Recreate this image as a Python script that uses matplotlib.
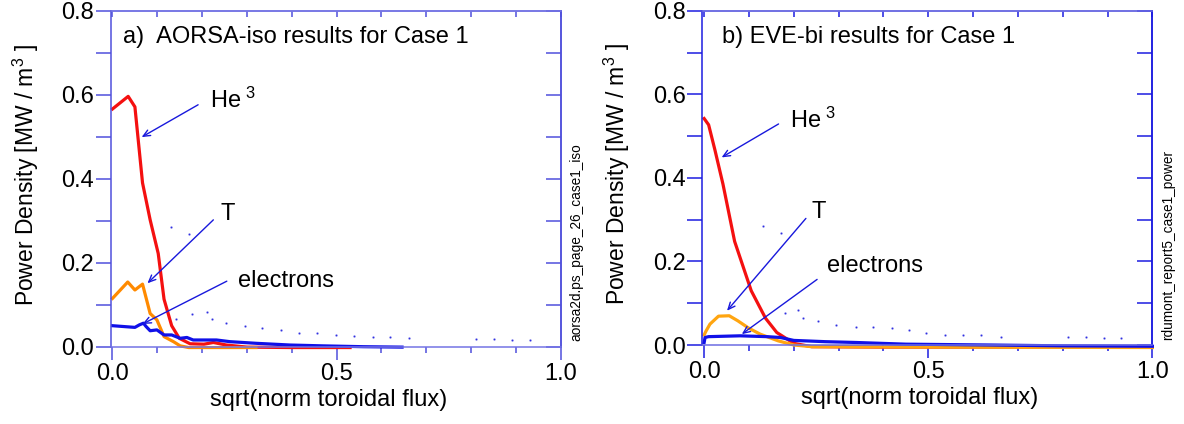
"""Power density profiles for Case 1: AORSA-iso and EVE-bi results side by side."""

import matplotlib
matplotlib.use("Agg")
import matplotlib.pyplot as plt
from matplotlib.ticker import MultipleLocator, FormatStrFormatter

plt.rcParams["font.family"] = ["Liberation Sans", "DejaVu Sans"]
plt.rcParams["mathtext.fontset"] = "custom"
plt.rcParams["mathtext.rm"] = "Liberation Sans"
plt.rcParams["mathtext.it"] = "Liberation Sans:italic"
plt.rcParams["mathtext.bf"] = "Liberation Sans:bold"

# ---- panel a) AORSA-iso ----
he3_a_x = [0.0, 0.035, 0.050, 0.067, 0.084, 0.102, 0.115, 0.132, 0.149, 0.173, 0.204, 0.225, 0.254, 0.300, 0.400, 0.530]
he3_a_y = [0.566, 0.596, 0.571, 0.390, 0.302, 0.222, 0.113, 0.050, 0.020, 0.007, 0.006, 0.010, 0.004, -0.001, -0.002, -0.002]
t_a_x = [0.0, 0.034, 0.050, 0.067, 0.084, 0.099, 0.115, 0.136, 0.151, 0.170, 0.260, 0.320]
t_a_y = [0.115, 0.154, 0.135, 0.149, 0.079, 0.064, 0.024, 0.012, 0.002, -0.002, -0.002, -0.002]
el_a_x = [0.0, 0.050, 0.060, 0.069, 0.075, 0.084, 0.099, 0.115, 0.132, 0.151, 0.166, 0.180, 0.232, 0.262,
          0.322, 0.396, 0.470, 0.560, 0.646]
el_a_y = [0.050, 0.046, 0.052, 0.056, 0.048, 0.038, 0.040, 0.028, 0.028, 0.020, 0.022, 0.016, 0.016, 0.012,
          0.008, 0.004, 0.002, 0.000, -0.001]
dots_a_x = [0.130, 0.170, 0.142, 0.177, 0.210, 0.222, 0.254, 0.296, 0.334, 0.376, 0.417, 0.456, 0.498, 0.539,
            0.581, 0.620, 0.662, 0.811, 0.852, 0.892, 0.932]
dots_a_y = [0.286, 0.268, 0.065, 0.077, 0.083, 0.065, 0.057, 0.049, 0.044, 0.040, 0.033, 0.032, 0.028, 0.025,
            0.024, 0.022, 0.020, 0.018, 0.018, 0.016, 0.016]

# ---- panel b) EVE-bi ----
he3_b_x = [0.0, 0.010, 0.024, 0.042, 0.068, 0.105, 0.137, 0.162, 0.200, 0.240, 0.400, 0.700, 1.000]
he3_b_y = [0.542, 0.527, 0.467, 0.385, 0.248, 0.130, 0.064, 0.030, 0.004, -0.004, -0.005, -0.005, -0.005]
t_b_x = [0.0, 0.004, 0.013, 0.032, 0.056, 0.075, 0.100, 0.125, 0.165, 0.200, 0.240, 0.500, 1.000]
t_b_y = [0.024, 0.033, 0.050, 0.069, 0.070, 0.058, 0.040, 0.026, 0.010, 0.000, -0.004, -0.005, -0.006]
el_b_x = [0.0, 0.002, 0.010, 0.080, 0.140, 0.170, 0.200, 0.270, 0.340, 0.450, 0.640, 0.800, 1.000]
el_b_y = [0.006, 0.018, 0.020, 0.022, 0.020, 0.018, 0.011, 0.008, 0.006, 0.002, 0.000, -0.002, -0.003]
dots_b_x = [0.131, 0.171, 0.180, 0.210, 0.221, 0.254, 0.294, 0.338, 0.377, 0.418, 0.457, 0.496, 0.537,
            0.578, 0.618, 0.662, 0.811, 0.852, 0.892, 0.931]
dots_b_y = [0.285, 0.267, 0.076, 0.083, 0.065, 0.058, 0.048, 0.044, 0.044, 0.041, 0.036, 0.029, 0.025,
            0.025, 0.025, 0.020, 0.018, 0.018, 0.016, 0.016]

titles = ["a)  AORSA-iso results for Case 1", "b) EVE-bi results for Case 1"]
stamps = ["aorsa2d.ps_page_26_case1_iso", "rdumont_report5_case1_power"]
species = [r"He$^{\ 3}$", "T", "electrons"]

# label anchors (left, baseline) and arrows (tail -> head), data coords
labels_a = [(0.218, 0.568), (0.240, 0.302), (0.279, 0.141)]
arrows_a = [((0.191, 0.576), (0.065, 0.499)), ((0.225, 0.302), (0.078, 0.151)), ((0.255, 0.156), (0.067, 0.054))]
labels_b = [(0.192, 0.519), (0.240, 0.303), (0.273, 0.175)]
arrows_b = [((0.166, 0.529), (0.039, 0.449)), ((0.227, 0.303), (0.051, 0.082)), ((0.252, 0.157), (0.084, 0.026))]

FS = 17


def draw_panel(ax, curves, dots, title, labels, arrows, stamp, frame, vframe, title_x, xlab_x):
    """Draws one power density panel with its IDL style frame."""
    for x, y, color in curves:
        ax.plot(x, y, color=color, lw=2.3, solid_joinstyle="round", clip_on=False)
    ax.plot(dots[0], dots[1], ls="none", marker="s", ms=0.9, mew=0.4, color="#3030e0")

    for (tail, head) in arrows:
        ax.annotate("", xy=head, xytext=tail,
                    arrowprops=dict(arrowstyle="->,head_length=0.5,head_width=0.22", color="#1818dc", lw=1.0,
                                    shrinkA=0, shrinkB=0))
    for name, (lx, ly) in zip(species, labels):
        ax.text(lx, ly, name, fontsize=FS, ha="left", va="baseline")

    ax.text(title_x, 0.722, title, fontsize=FS, ha="left", va="baseline")

    ax.set_xlim(-0.004, 1.0)
    ax.set_ylim(0.0, 0.8)
    ax.xaxis.set_major_locator(MultipleLocator(0.5))
    ax.xaxis.set_minor_locator(MultipleLocator(0.1))
    ax.yaxis.set_major_locator(MultipleLocator(0.2))
    ax.yaxis.set_minor_locator(MultipleLocator(0.1))
    ax.xaxis.set_major_formatter(FormatStrFormatter("%.1f"))
    ax.yaxis.set_major_formatter(FormatStrFormatter("%.1f"))

    ax.tick_params(axis="x", which="major", direction="out", length=9.6, width=1.1, pad=2,
                   color=vframe, labelsize=FS)
    ax.tick_params(axis="x", which="minor", direction="out", length=4.6, width=1.1, color=vframe)
    ax.tick_params(axis="y", which="both", direction="out", length=10.8, width=1.1, pad=1,
                   color=vframe, labelsize=FS)

    for side in ["top", "bottom"]:
        ax.spines[side].set_color(frame)
    for side in ["left", "right"]:
        ax.spines[side].set_color(vframe)
    for sp in ax.spines.values():
        sp.set_linewidth(1.1)

    # inward ticks on the top and right side
    top = ax.secondary_xaxis("top")
    top.xaxis.set_major_locator(MultipleLocator(0.1))
    top.tick_params(direction="in", length=4.2, width=1.1, color=vframe, labeltop=False)
    top.spines["top"].set_color(frame)
    top.spines["top"].set_linewidth(1.1)
    right = ax.secondary_yaxis("right")
    right.yaxis.set_major_locator(MultipleLocator(0.1))
    right.tick_params(direction="in", length=10.8, width=1.1, color=vframe, labelright=False)
    right.spines["right"].set_color(vframe)
    right.spines["right"].set_linewidth(1.1)

    ax.set_xlabel("sqrt(norm toroidal flux)", fontsize=FS, va="center")
    ax.xaxis.set_label_coords(xlab_x, -0.16)
    ax.set_ylabel(r"Power Density [MW / m$^3$ ]", fontsize=16.5, va="center")
    ax.yaxis.set_label_coords(-0.189, 0.51)

    ax.text(1.034, 0.016, stamp, transform=ax.transAxes, rotation=90, fontsize=9.8,
            ha="center", va="bottom")


fig = plt.figure(figsize=(11.84, 4.24), dpi=100)
ax_a = fig.add_axes([0.0935, 0.1823, 0.3801, 0.7925])
ax_b = fig.add_axes([0.5932, 0.1863, 0.3801, 0.7884])

draw_panel(ax_a,
           [(he3_a_x, he3_a_y, "#f41010"), (t_a_x, t_a_y, "#ff8a00"), (el_a_x, el_a_y, "#1010e8")],
           (dots_a_x, dots_a_y), titles[0], labels_a, arrows_a, stamps[0],
           "#7474e4", "#5050dc", 0.023, 0.485)
draw_panel(ax_b,
           [(he3_b_x, he3_b_y, "#f41010"), (t_b_x, t_b_y, "#ffa510"), (el_b_x, el_b_y, "#1010e8")],
           (dots_b_x, dots_b_y), titles[1], labels_b, arrows_b, stamps[1],
           "#6c6ce2", "#1c1ce0", 0.039, 0.482)

fig.savefig("out.png", dpi=100)
